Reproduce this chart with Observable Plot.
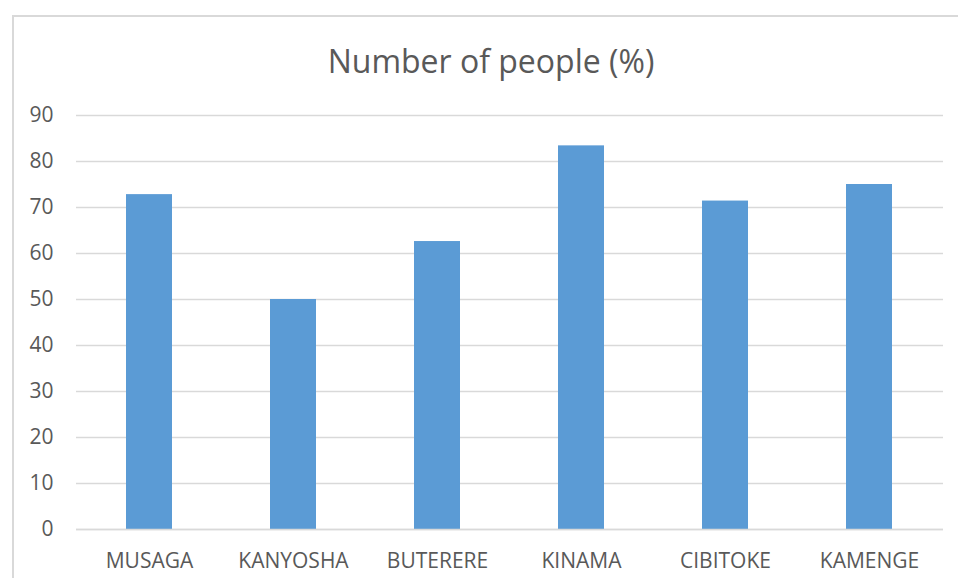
<!DOCTYPE html>
<html><head><meta charset="utf-8">
<script src="https://cdn.jsdelivr.net/npm/d3@7"></script>
<script src="https://cdn.jsdelivr.net/npm/@observablehq/plot@0.6"></script>
<style>
body{margin:0;background:#fff;overflow:hidden;}
#wrap{position:relative;width:958px;height:578px;font-family:"Open Sans",sans-serif;}
#frame{position:absolute;left:12px;top:15px;width:960px;height:580px;border-left:2px solid #d9d9d9;border-top:2px solid #d9d9d9;}
#title{position:absolute;left:0;width:982px;top:39px;text-align:center;font-size:32px;color:#595959;font-family:"Open Sans",sans-serif;}
#chart{position:absolute;left:0;top:0;}
</style></head>
<body>
<div id="wrap"><div id="frame"></div><div id="title">Number of people (%)</div><div id="chart"></div></div>
<script>
const categories = ["MUSAGA","KANYOSHA","BUTERERE","KINAMA","CIBITOKE","KAMENGE"];
const values = [72.8, 50.0, 62.6, 83.4, 71.4, 75.0];
const yTicks = [0,10,20,30,40,50,60,70,80,90];
const data = categories.map((c,i)=>({cat:c, v:values[i]}));
const chart = Plot.plot({
  width:958, height:578,
  marginTop:115, marginBottom:49, marginLeft:76, marginRight:15,
  style:{background:"transparent", fontFamily:"Open Sans, sans-serif", fontSize:"21px", color:"#595959"},
  x:{domain:categories, paddingInner:0.68, paddingOuter:0.34},
  y:{domain:[0,90]},
  marks:[
    Plot.gridY(yTicks,{stroke:"#d9d9d9", strokeOpacity:1, strokeWidth:1.5}),
    Plot.barY(data,{x:"cat", y:"v", fill:"#5B9BD5"}),
    Plot.ruleY([0],{stroke:"#d9d9d9", strokeWidth:1.5}),
    Plot.axisY(yTicks,{label:null, tickSize:0, tickPadding:23, fontSize:21, fill:"#595959"}),
    Plot.axisX({label:null, tickSize:0, tickPadding:24, fontSize:21, fill:"#595959"})
  ]
});
document.getElementById("chart").appendChild(chart);
</script>
</body></html>
